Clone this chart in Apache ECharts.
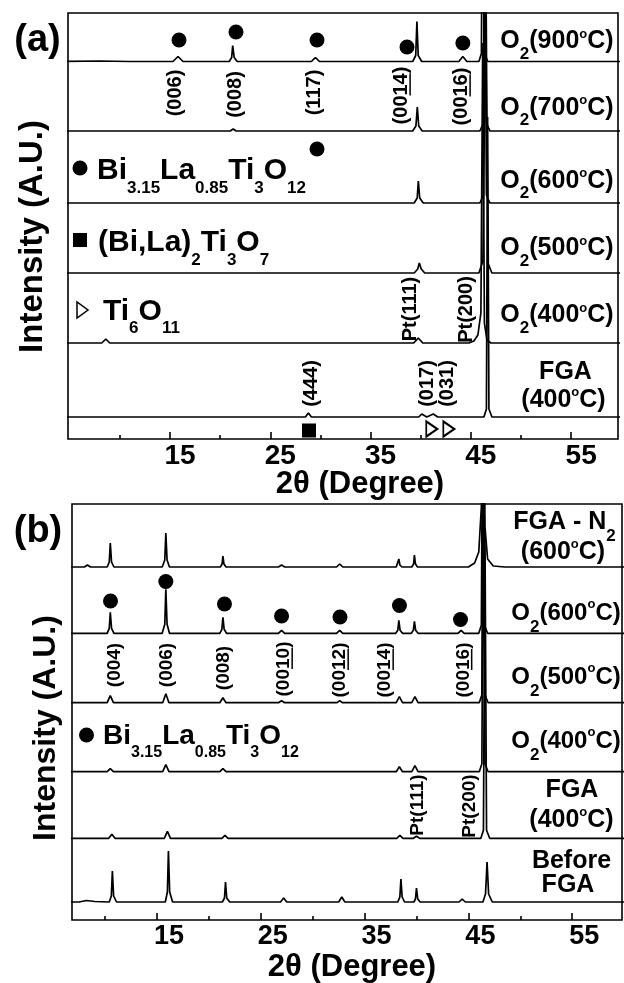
<!DOCTYPE html>
<html><head><meta charset="utf-8">
<script src="https://cdn.jsdelivr.net/npm/echarts@6/dist/echarts.min.js"></script>
<style>html,body{margin:0;padding:0;background:#fff}#c{width:624px;height:983px}</style>
</head><body><div id="c"></div>
<script>
// ---------- DATA (2θ in degrees, intensity in arbitrary units above each trace's baseline) ----------
const xTickLabels = [15, 25, 35, 45, 55];
const xMinorTicks = [10, 20, 30, 40, 50];

const namesA = ['O2(900°C)', 'O2(700°C)', 'O2(600°C)', 'O2(500°C)', 'O2(400°C)', 'FGA(400°C)'];
const xrdA900 = [[4.5,0],[8,0.5],[11,0],[15.3,0],[15.8,5],[16.3,0],[20.9,0],[21.15,4],[21.25,16],[21.4,4],[21.7,0],[29.1,0],[29.5,4],[29.9,0],[39.2,0],[39.5,6],[39.62,40],[39.75,6],[40.1,0],[43.8,0],[44.2,5],[44.6,0],[45.8,0],[46.05,8],[46.2,300],[46.35,8],[46.7,0],[60,0]];
const xrdA700 = [[4.5,0],[21.0,0],[21.3,2],[21.6,0],[39.2,0],[39.52,5],[39.66,24],[39.8,5],[40.15,0],[45.9,0],[46.25,8],[46.4,300],[46.55,8],[46.9,0],[60,0]];
const xrdA600 = [[4.5,0],[39.35,0],[39.65,5],[39.76,22],[39.9,5],[40.25,0],[45.9,0],[46.25,8],[46.4,300],[46.55,8],[46.9,0],[60,0]];
const xrdA500 = [[4.5,0],[39.35,0],[39.7,4],[39.86,10],[40.05,4],[40.4,0],[45.8,0],[46.2,12],[46.5,300],[46.7,10],[47.1,0],[60,0]];
const xrdA400 = [[4.5,0],[8.2,0],[8.6,4],[9.0,0],[39.3,0],[39.76,5],[40.2,0],[44.8,0],[45.3,2],[45.7,8],[46.0,30],[46.18,300],[46.35,20],[46.6,3],[47,0],[60,0]];
const xrdAFGA = [[4.5,0],[28.5,0],[28.8,4],[29.1,0],[39.8,0],[40.1,3],[40.6,0],[41.25,3],[41.7,0],[46.3,0],[46.55,8],[46.67,300],[46.8,8],[47.1,0],[60,0]];
const dotsA = [[15.9,399],[21.58,407],[29.66,399],[38.63,392],[44.2,396],[29.66,290]];
const phaseSquareA = [[28.86,8.5]];
const phaseTriangleA = [[41.1,10],[42.8,10]];

const namesB = ['FGA - N2(600°C)', 'O2(600°C)', 'O2(500°C)', 'O2(400°C)', 'FGA(400°C)', 'Before FGA'];
const xrdBN2 = [[6.5,0],[8.0,0],[8.3,2],[8.6,0],[10.2,0],[10.4,5],[10.5,24],[10.62,5],[10.85,0],[15.5,0],[15.75,7],[15.85,34],[15.97,7],[16.2,0],[21.1,0],[21.27,3],[21.35,11],[21.45,3],[21.65,0],[26.7,0],[27.0,2],[27.3,0],[32.3,0],[32.6,3],[32.9,0],[38.05,0],[38.22,2],[38.3,8],[38.4,2],[38.6,0],[39.55,0],[39.72,3],[39.8,12],[39.9,3],[40.1,0],[45.0,0],[45.6,4],[46.0,15],[46.25,60],[46.4,300],[46.6,40],[46.85,8],[47.4,1],[48.5,0],[60,0]];
const xrdBO600 = [[6.5,0],[10.2,0],[10.4,5],[10.5,21],[10.62,5],[10.85,0],[15.5,0],[15.75,9],[15.85,44],[15.97,9],[16.2,0],[21.05,0],[21.25,4],[21.35,16],[21.47,4],[21.7,0],[26.7,0],[27.0,3],[27.3,0],[32.3,0],[32.6,3],[32.9,0],[38.0,0],[38.2,3],[38.3,13],[38.42,3],[38.65,0],[39.5,0],[39.7,3],[39.8,12],[39.92,3],[40.15,0],[44.0,0],[44.3,3],[44.6,0],[46.0,0],[46.25,8],[46.4,300],[46.55,8],[46.85,0],[60,0]];
const xrdBO500 = [[6.5,0],[10.2,0],[10.5,7],[10.8,0],[15.55,0],[15.85,9],[16.15,0],[21.05,0],[21.35,5],[21.65,0],[26.7,0],[27.0,2],[27.3,0],[32.35,0],[32.6,2],[32.85,0],[38.05,0],[38.35,6],[38.65,0],[39.55,0],[39.85,6],[40.15,0],[46.05,0],[46.3,8],[46.45,300],[46.6,8],[46.9,0],[60,0]];
const xrdBO400 = [[6.5,0],[10.2,0],[10.5,3],[10.8,0],[15.55,0],[15.85,7],[16.15,0],[21.05,0],[21.35,3],[21.65,0],[38.05,0],[38.35,5],[38.65,0],[39.55,0],[39.85,6],[40.15,0],[46.05,0],[46.3,8],[46.45,300],[46.6,8],[46.9,0],[60,0]];
const xrdBFGA = [[6.5,0],[10.35,0],[10.65,4],[10.95,0],[15.7,0],[16.0,7],[16.3,0],[21.25,0],[21.55,3],[21.85,0],[38.1,0],[38.4,3],[38.7,0],[39.7,0],[40.0,2],[40.3,0],[46.2,0],[46.45,8],[46.6,300],[46.75,8],[47.05,0],[60,0]];
const xrdBBefore = [[6.5,0],[7.5,0],[8.2,1.5],[9.0,0.5],[10.4,0],[10.6,6],[10.7,31],[10.82,6],[11.1,0],[15.8,0],[16.0,10],[16.1,51],[16.22,10],[16.5,0],[21.3,0],[21.5,4],[21.6,20],[21.72,4],[22.0,0],[26.9,0],[27.2,4],[27.5,0],[32.5,0],[32.8,5],[33.1,0],[38.2,0],[38.4,5],[38.5,23],[38.62,5],[38.85,0],[39.75,0],[39.9,3],[40.0,14],[40.12,3],[40.35,0],[44.1,0],[44.4,3],[44.7,0],[46.4,0],[46.65,8],[46.8,40],[46.95,8],[47.3,0],[60,0]];
const dotsB = [[10.52,319],[15.85,338.5],[21.5,316],[27.0,304],[32.63,303],[38.36,314.5],[44.24,300.5]];

// ---------- LAYOUT ----------
const FONT = '"Liberation Sans", Arial, Helvetica, sans-serif';
const layoutA = {left:68, top:13, width:550, height:426, xmin:4.83, xmax:59.67, offsets:[377.5,308,236,166,96,22]};
const layoutB = {left:72, top:504, width:550, height:416, xmin:6.81, xmax:59.8, offsets:[353,286.7,217.3,148.3,81.7,18]};
const tracesA = [xrdA900, xrdA700, xrdA600, xrdA500, xrdA400, xrdAFGA];
const tracesB = [xrdBN2, xrdBO600, xrdBO500, xrdBO400, xrdBFGA, xrdBBefore];

const fnt = s => `bold ${s}px ${FONT}`;
const G = [];
function addText(x, y, t, size, rot, align) {
  G.push({type:'text', x, y, rotation: rot || 0, silent:true, z:100,
    style:{text:t, font:fnt(size), fill:'#000', align:align || 'center', verticalAlign:'middle'}});
}
function addRich(x, y, parts, o) {
  const L = 60;
  const hs = L - 2 * (o.subOff || 12), hp = L - 2 * (o.supOff || 8);
  G.push({type:'text', x, y, silent:true, z:100, style:{
    text: parts.map(p => `{${p[1]}|${p[0]}}`).join(''),
    align:o.align || 'center', verticalAlign:'middle', fill:'#000', font:fnt(o.size),
    rich:{
      m:{font:fnt(o.size), lineHeight:L, fill:'#000'},
      s:{font:fnt(o.sub || 17), height:hs, lineHeight:hs, verticalAlign:'bottom', fill:'#000'},
      p:{font:fnt(o.sup || 13), height:hp, lineHeight:hp, verticalAlign:'top', fill:'#000'}
    }}});
}
const cv = document.createElement('canvas').getContext('2d');
function addHkl(lbl, size) {
  const [t, cx, cy, pre, und] = lbl;
  addText(cx, cy, t, size, Math.PI / 2);
  if (und) {
    cv.font = fnt(size);
    const w = cv.measureText(t).width, wp = cv.measureText(pre).width, wu = cv.measureText(und).width;
    const y0 = cy + w / 2 - wp;
    const ux = cx + size * 0.43;
    G.push({type:'line', silent:true, z:100, shape:{x1:ux, y1:y0, x2:ux, y2:y0 - wu}, style:{stroke:'#000', lineWidth:1.5}});
  }
}
const O2 = t => [['O','m'],['2','s'],['(' + t,'m'],['o','p'],['C)','m']];
const BLT = [['Bi','m'],['3.15','s'],['La','m'],['0.85','s'],['Ti','m'],['3','s'],['O','m'],['12','s']];

// ----- panel (a) texts -----
addText(37.5, 40.5, '(a)', 38);
addText(32.5, 236.5, 'Intensity (A.U.)', 33, Math.PI / 2);
addText(360, 484, '2θ (Degree)', 31);
[['900',41.5],['700',108],['600',181],['500',248.5],['400',315.5]].forEach(([t,y]) =>
  addRich(557, y, O2(t), {size:25, sub:17, subOff:12.5, sup:13, supOff:7.5}));
addText(565.5, 372.5, 'FGA', 25);
addRich(563.5, 400, [['(400','m'],['o','p'],['C)','m']], {size:25, sup:13, supOff:7.5});
addRich(97, 171, BLT, {size:30, sub:17, subOff:17, align:'left'});
addRich(98, 242.5, [['(Bi,La)','m'],['2','s'],['Ti','m'],['3','s'],['O','m'],['7','s']], {size:30, sub:17, subOff:17.5, align:'left'});
addRich(103, 312, [['Ti','m'],['6','s'],['O','m'],['11','s']], {size:30, sub:17, subOff:16, align:'left'});
G.push({type:'circle', silent:true, z:100, shape:{cx:80, cy:168, r:7.5}, style:{fill:'#000'}});
G.push({type:'rect', silent:true, z:100, shape:{x:73, y:233, width:14, height:14}, style:{fill:'#000'}});
G.push({type:'polygon', silent:true, z:100, shape:{points:[[77,302],[77,318],[88,310]]}, style:{fill:'#fff', stroke:'#000', lineWidth:1.5}});
[['(006)',175.5,93],['(008)',235,94.5],['(117)',314.5,92.5],['(0014)',401.5,95.5,'(00','14'],['(0016)',461.5,96.5,'(00','16'],
 ['Pt(111)',410,309],['Pt(200)',466,309.5],['(444)',311.5,383.5],['(017)',427.5,383.5],['(031)',447.5,383.5]].forEach(l => addHkl(l, 20));

// ----- panel (b) texts -----
addText(38, 531.5, '(b)', 38);
addText(46.5, 728, 'Intensity (A.U.)', 32, Math.PI / 2);
addText(352, 967, '2θ (Degree)', 31);
addRich(564.5, 522, [['FGA - N','m'],['2','s']], {size:25, sub:17, subOff:14});
addRich(563, 552.5, [['(600','m'],['o','p'],['C)','m']], {size:25, sup:13, supOff:8});
[['600',613],['500',677],['400',741]].forEach(([t,y]) =>
  addRich(566, y, O2(t), {size:24, sub:17, subOff:14, sup:13, supOff:8.5}));
addText(572, 790, 'FGA', 25);
addRich(571.5, 820, [['(400','m'],['o','p'],['C)','m']], {size:25, sup:13, supOff:8});
addText(571.5, 861, 'Before', 25);
addText(568, 885, 'FGA', 25);
addRich(103, 736, BLT, {size:28, sub:16, subOff:16.5, align:'left'});
G.push({type:'circle', silent:true, z:100, shape:{cx:86.5, cy:735, r:7.5}, style:{fill:'#000'}});
[['(004)',115,665],['(006)',167,665],['(008)',224,668],['(0010)',284,669,'(00','10'],['(0012)',340,670,'(00','12'],
 ['(0014)',385,670,'(00','14'],['(0016)',463.5,670,'(00','16'],['Pt(111)',418,805],['Pt(200)',470,806]].forEach(l => addHkl(l, 19));

// ---------- OPTION ----------
function gridOf(L) { return {left:L.left, top:L.top, width:L.width, height:L.height, show:true, borderColor:'#000', borderWidth:1.6, backgroundColor:'rgba(0,0,0,0)'}; }
function xMain(g, L, pad, fs) {
  return {gridIndex:g, type:'value', min:L.xmin, max:L.xmax, position:'bottom',
    axisLine:{show:false}, splitLine:{show:false},
    axisTick:{show:true, inside:true, length:7, customValues:xTickLabels, lineStyle:{color:'#000', width:1.6}},
    axisLabel:{show:true, customValues:xTickLabels, margin:3, color:'#000', fontSize:fs, fontWeight:'bold', fontFamily:FONT, padding:[0,0,0,pad]}};
}
function xMinor(g, L) {
  return {gridIndex:g, type:'value', min:L.xmin, max:L.xmax, position:'bottom',
    axisLine:{show:false}, splitLine:{show:false}, axisLabel:{show:false},
    axisTick:{show:true, inside:true, length:4, customValues:xMinorTicks, lineStyle:{color:'#000', width:1.6}}};
}
const series = [];
function addTraces(traces, names, L, xi, yi) {
  traces.forEach((d, i) => series.push({type:'line', name:names[i], xAxisIndex:xi, yAxisIndex:yi,
    data:d.map(p => [p[0], p[1] + L.offsets[i]]), showSymbol:false, symbol:'none', clip:true, silent:true,
    lineStyle:{color:'#000', width:1.7}, z:3}));
}
addTraces(tracesA, namesA, layoutA, 0, 0);
addTraces(tracesB, namesB, layoutB, 2, 1);
const solid = {color:'#000', opacity:1};
series.push({type:'scatter', xAxisIndex:0, yAxisIndex:0, data:dotsA, symbol:'circle', symbolSize:15, itemStyle:solid, silent:true, z:5});
series.push({type:'scatter', xAxisIndex:2, yAxisIndex:1, data:dotsB, symbol:'circle', symbolSize:15, itemStyle:solid, silent:true, z:5});
series.push({type:'scatter', xAxisIndex:0, yAxisIndex:0, data:phaseSquareA, symbol:'rect', symbolSize:14, itemStyle:solid, silent:true, z:5});
series.push({type:'scatter', xAxisIndex:0, yAxisIndex:0, data:phaseTriangleA, symbol:'emptyTriangle', symbolSize:[15,11], symbolRotate:-90, itemStyle:{color:'#000', borderColor:'#000', borderWidth:1.5, opacity:1}, silent:true, z:5});

const chart = echarts.init(document.getElementById('c'), null, {renderer:'canvas'});
chart.setOption({
  animation:false,
  backgroundColor:'#fff',
  grid:[gridOf(layoutA), gridOf(layoutB)],
  xAxis:[xMain(0, layoutA, 20, 28), xMinor(0, layoutA), xMain(1, layoutB, 24, 27), xMinor(1, layoutB)],
  yAxis:[{gridIndex:0, type:'value', min:0, max:layoutA.height, show:false},
         {gridIndex:1, type:'value', min:0, max:layoutB.height, show:false}],
  series,
  graphic:G
});
</script></body></html>
